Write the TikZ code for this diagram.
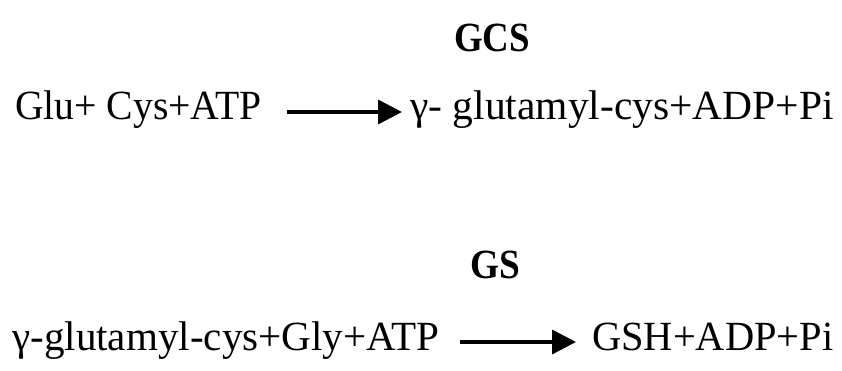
\documentclass[tikz,border=0pt]{standalone}
\usepackage{fontspec}
\setmainfont{Liberation Serif}
\usetikzlibrary{arrows.meta,calc}
\tikzset{
  chem/.style={inner sep=0pt, font=\fontsize{41.5pt}{48pt}\selectfont},
  enz/.style={inner sep=0pt, font=\fontsize{41.5pt}{48pt}\selectfont\bfseries},
  rxn/.style={line width=3.6pt, -{Triangle[length=24pt,width=24pt]}}
}
\begin{document}
\begin{tikzpicture}[x=1pt,y=1pt]
\useasboundingbox (0,0) rectangle (842,370);
% reaction 1
\node[enz, anchor=base] (gcs) at (492,318) {\scalebox{0.89}[1]{GCS}};
\node[chem, anchor=base west] (l1) at (15,250) {\scalebox{0.955}[1]{Glu+ Cys+ATP}};
\node[chem, anchor=base west] (r1) at (410,250) {\scalebox{1.0}[1]{γ- glutamyl-cys+ADP+Pi}};
\draw[rxn] ($(l1.base east)+(25,8)$) -- ($(r1.base west)+(-8,8)$);
% reaction 2
\node[enz, anchor=base] (gs) at (495,92) {\scalebox{0.9}[1]{GS}};
\node[chem, anchor=base west] (l2) at (12,20) {\scalebox{0.99}[1]{γ-glutamyl-cys+Gly+ATP}};
\node[chem, anchor=base west] (r2) at (592,20) {\scalebox{0.975}[1]{GSH+ADP+Pi}};
\draw[rxn] ($(l2.base east)+(20,8)$) -- ($(r2.base west)+(-16,8)$);
\end{tikzpicture}
\end{document}
